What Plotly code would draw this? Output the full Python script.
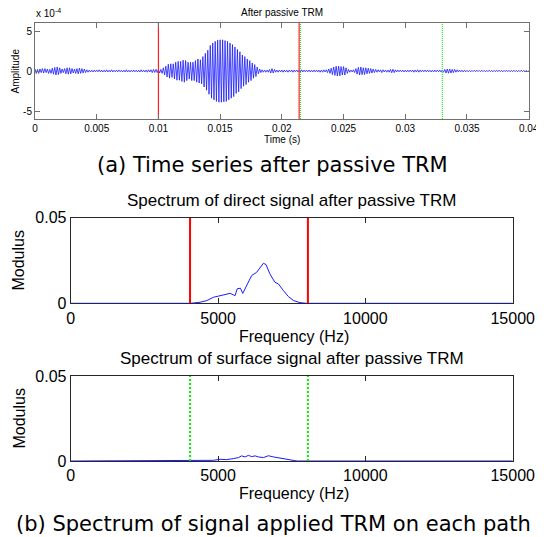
import plotly.graph_objects as go

# page body has an 8px default margin, so the figure is drawn 8px in from the top-left
PAGE_W, PAGE_H = 544, 537
OFF = 8
W, H = PAGE_W - OFF, PAGE_H - OFF

# ---------------- data ----------------
# time series (amplitude in units of 1e-4), extrema every 0.0001 s from 0 to 0.04 s
amp_1e4 = [
    0.25, -0.3, 0.2, -0.3, 0.25, -0.2, 0.3, -0.25, 0.3, -0.2,
    0.25, -0.3, 0.2, -0.3, 0.35, -0.4, 0.45, -0.5, 0.5, -0.45,
    0.4, -0.3, 0.25, -0.2, 0.3, -0.35, 0.4, -0.4, 0.4, -0.35,
    0.3, -0.25, 0.25, -0.3, 0.3, -0.35, 0.35, -0.3, 0.3, -0.25,
    0.25, -0.2, 0.15, -0.15, 0.12, -0.12, 0.1, -0.12, 0.12, -0.1,
    0.12, -0.1, 0.15, -0.12, 0.1, -0.12, 0.1, -0.12, 0.15, -0.12,
    0.1, -0.12, 0.15, -0.12, 0.1, -0.1, 0.12, -0.1, 0.12, -0.1,
    0.1, -0.12, 0.1, -0.12, 0.15, -0.12, 0.1, -0.12, 0.1, -0.1,
    0.12, -0.1, 0.1, -0.12, 0.1, -0.12, 0.15, -0.12, 0.1, -0.12,
    0.12, -0.15, 0.15, -0.12, 0.15, -0.2, 0.2, -0.18, 0.2, -0.2,
    0.2, -0.25, 0.2, -0.3, 0.4, -0.5, 0.6, -0.75, 0.85, -0.9,
    0.9, -0.8, 0.9, -1.0, 1.1, -1.15, 1.2, -1.15, 1.2, -1.3,
    1.35, -1.4, 1.3, -1.2, 1.1, -1.0, 1.1, -1.2, 1.1, -1.2,
    1.3, -1.4, 1.5, -1.5, 1.4, -1.6, 1.8, -2.0, 2.2, -2.4,
    2.6, -2.9, 3.2, -3.4, 3.5, -3.6, 3.7, -3.8, 3.85, -3.9,
    3.9, -3.9, 3.9, -3.85, 3.8, -3.8, 3.7, -3.6, 3.5, -3.4,
    3.3, -3.2, 3.0, -2.8, 2.7, -2.6, 2.4, -2.2, 2.0, -1.9,
    1.8, -1.7, 1.5, -1.4, 1.3, -1.2, 1.0, -0.9, 0.8, -0.7,
    0.5, -0.35, 0.25, -0.2, 0.15, -0.15, 0.12, -0.15, 0.12, -0.15,
    0.2, -0.25, 0.3, -0.25, 0.2, -0.15, 0.12, -0.15, 0.12, -0.12,
    0.12, -0.15, 0.12, -0.12, 0.1, -0.15, 0.12, -0.1, 0.12, -0.15,
    0.12, -0.1, 0.12, -0.12, 0.1, -0.12, 0.15, -0.12, 0.12, -0.1,
    0.12, -0.1, 0.12, -0.12, 0.1, -0.12, 0.12, -0.1, 0.12, -0.12,
    0.12, -0.15, 0.12, -0.15, 0.15, -0.12, 0.15, -0.2, 0.25, -0.3,
    0.35, -0.45, 0.5, -0.55, 0.6, -0.62, 0.6, -0.6, 0.55, -0.5,
    0.55, -0.5, 0.4, -0.3, 0.2, -0.15, 0.12, -0.12, 0.15, -0.2,
    0.3, -0.4, 0.45, -0.5, 0.5, -0.45, 0.4, -0.45, 0.4, -0.35,
    0.35, -0.3, 0.3, -0.25, 0.25, -0.2, 0.2, -0.15, 0.15, -0.12,
    0.15, -0.2, 0.15, -0.12, 0.12, -0.15, 0.12, -0.15, 0.2, -0.22,
    0.22, -0.2, 0.15, -0.12, 0.12, -0.1, 0.12, -0.1, 0.12, -0.12,
    0.1, -0.12, 0.12, -0.1, 0.12, -0.1, 0.12, -0.15, 0.12, -0.12,
    0.15, -0.15, 0.12, -0.1, 0.12, -0.1, 0.12, -0.1, 0.12, -0.1,
    0.1, -0.12, 0.1, -0.12, 0.12, -0.1, 0.12, -0.1, 0.12, -0.12,
    0.12, -0.15, 0.2, -0.25, 0.25, -0.28, 0.25, -0.25, 0.2, -0.2,
    0.2, -0.15, 0.15, -0.12, 0.12, -0.1, 0.1, -0.12, 0.1, -0.1,
    0.08, -0.1, 0.08, -0.1, 0.08, -0.08, 0.1, -0.08, 0.1, -0.08,
    0.08, -0.08, 0.1, -0.08, 0.08, -0.1, 0.08, -0.08, 0.1, -0.08,
    0.08, -0.1, 0.08, -0.08, 0.1, -0.08, 0.1, -0.08, 0.08, -0.1,
    0.08, -0.08, 0.1, -0.08, 0.08, -0.1, 0.08, -0.08, 0.1, -0.08,
    0.08, -0.1, 0.08, -0.08, 0.1, -0.08, 0.08, -0.1, 0.08, -0.08,
    0.05,
]
sample_step_s = 0.0001
time_s = [i * sample_step_s for i in range(len(amp_1e4))]

time_red_lines = [0.01, 0.0214]
time_green_lines = [0.0215, 0.033]
time_ticks = [0, 0.005, 0.01, 0.015, 0.02, 0.025, 0.03, 0.035, 0.04]
time_tick_labels = ["0", "0.005", "0.01", "0.015", "0.02", "0.025", "0.03", "0.035", "0.04"]
amp_ticks = [-5, 0, 5]
amp_tick_labels = ["-5", "0", "5"]

# spectrum of direct signal
direct_freq = [0, 4000, 4070, 4390, 4620, 4840, 5070, 5240, 5410, 5520, 5580, 5650,
               5760, 5840, 5970, 6140, 6310, 6430, 6540, 6630, 6760, 6930, 7050,
               7220, 7390, 7560, 7780, 8000, 15000]
direct_mod = [0, 0, 0, 0.0006, 0.0016, 0.0035, 0.0045, 0.0055, 0.0058, 0.0049, 0.0045,
              0.0085, 0.0088, 0.0058, 0.0103, 0.0162, 0.0181, 0.021, 0.0234, 0.0226,
              0.0172, 0.0123, 0.0113, 0.0074, 0.0039, 0.0016, 0.0004, 0, 0]

# spectrum of surface signal
surf_freq = [0, 4800, 4840, 5070, 5290, 5520, 5690, 5800, 5920, 6030, 6140, 6260,
             6370, 6540, 6710, 6880, 7050, 7220, 7390, 7610, 7700, 15000]
surf_mod = [0, 0, 0.0004, 0.001, 0.0008, 0.0014, 0.002, 0.003, 0.0024, 0.0033, 0.0026,
            0.003, 0.0024, 0.002, 0.0031, 0.0024, 0.0018, 0.0014, 0.001, 0.0002, 0, 0]

freq_red_lines = [4050, 8050]
freq_green_lines = [4050, 8050]
freq_ticks = [0, 5000, 10000, 15000]
freq_tick_labels = ["0", "5000", "10000", "15000"]
mod_ticks = [0, 0.05]
mod_tick_labels = ["0", "0.05"]

# ---------------- helpers (page pixels -> paper fractions) ----------------
def fx(x):
    return (x - OFF) / W

def fy(y):
    return 1 - (y - OFF) / H

AX = "Liberation Sans, Arial, sans-serif"

fig = go.Figure()

# top: time series
fig.add_trace(go.Scatter(x=time_s, y=amp_1e4, mode="lines",
                         line=dict(color="#1a1aff", width=0.8),
                         xaxis="x", yaxis="y", showlegend=False))
for t in time_red_lines:
    fig.add_trace(go.Scatter(x=[t, t], y=[-6, 6], mode="lines",
                             line=dict(color="#ff2020", width=1.2),
                             xaxis="x", yaxis="y", showlegend=False))
for t in time_green_lines:
    fig.add_trace(go.Scatter(x=[t, t], y=[-6, 6], mode="lines",
                             line=dict(color="#00e000", width=1, dash="1px,1px"),
                             xaxis="x", yaxis="y", showlegend=False))

# middle: direct spectrum
fig.add_trace(go.Scatter(x=direct_freq, y=direct_mod, mode="lines",
                         line=dict(color="#1a1aff", width=1),
                         xaxis="x2", yaxis="y2", showlegend=False))
for f in freq_red_lines:
    fig.add_trace(go.Scatter(x=[f, f], y=[0, 0.05], mode="lines",
                             line=dict(color="#ff0000", width=2),
                             xaxis="x2", yaxis="y2", showlegend=False))

# bottom: surface spectrum
fig.add_trace(go.Scatter(x=surf_freq, y=surf_mod, mode="lines",
                         line=dict(color="#1a1aff", width=1),
                         xaxis="x3", yaxis="y3", showlegend=False))
for f in freq_green_lines:
    fig.add_trace(go.Scatter(x=[f, f], y=[0, 0.05], mode="lines",
                             line=dict(color="#00ee00", width=2, dash="2px,2px"),
                             xaxis="x3", yaxis="y3", showlegend=False))

top_axis = dict(showline=True, linecolor="#707070", linewidth=1, mirror="ticks",
                ticks="inside", ticklen=5, tickcolor="#707070", showgrid=False,
                zeroline=False, automargin=False,
                tickfont=dict(family=AX, size=10, color="black"))
spec_axis = dict(showline=True, linecolor="#262626", linewidth=1, mirror="ticks",
                 ticks="inside", ticklen=5, tickcolor="#262626", showgrid=False,
                 zeroline=False, layer="below traces", automargin=False,
                 tickfont=dict(family=AX, size=16, color="black"))

fig.update_layout(
    width=W, height=H, margin=dict(l=0, r=0, t=0, b=0),
    paper_bgcolor="white", plot_bgcolor="white",
    xaxis=dict(top_axis, domain=[fx(35), fx(528.7)], range=[0, 0.04],
               tickvals=time_ticks, ticktext=time_tick_labels, anchor="y"),
    yaxis=dict(top_axis, domain=[fy(119), fy(23)], range=[-6, 6],
               tickvals=amp_ticks, ticktext=amp_tick_labels, anchor="x"),
    xaxis2=dict(spec_axis, domain=[fx(70.7), fx(512.7)], range=[0, 15000],
                tickvals=freq_ticks, ticktext=freq_tick_labels, anchor="y2"),
    yaxis2=dict(spec_axis, domain=[fy(303.3), fy(217.7)], range=[0, 0.05],
                tickvals=mod_ticks, ticktext=mod_tick_labels, anchor="x2"),
    xaxis3=dict(spec_axis, domain=[fx(70.7), fx(512.7)], range=[0, 15000],
                tickvals=freq_ticks, ticktext=freq_tick_labels, anchor="y3"),
    yaxis3=dict(spec_axis, domain=[fy(461), fy(376)], range=[0, 0.05],
                tickvals=mod_ticks, ticktext=mod_tick_labels, anchor="x3"),
)

def ann(text, x, y, size, family=AX, angle=0, xanchor="center", yanchor="middle"):
    fig.add_annotation(text=text, x=fx(x), y=fy(y), xref="paper", yref="paper",
                       showarrow=False, textangle=angle, xanchor=xanchor, yanchor=yanchor,
                       font=dict(family=family, size=size, color="black"))

ann("After passive TRM", 281.9, 12.5, 10)
ann("x 10<sup>-4</sup>", 34, 21, 10, xanchor="left", yanchor="bottom")
ann("Amplitude", 14.5, 71, 10, angle=-90)
ann("Time (s)", 282, 139, 10)
ann("(a) Time series after passive TRM", 272, 165, 21, family="DejaVu Sans")

ann("Spectrum of direct signal after passive TRM", 291.7, 200, 17)
ann("Modulus", 18, 260.5, 16, angle=-90)
ann("Frequency (Hz)", 293.5, 336, 16)

ann("Spectrum of surface signal after passive TRM", 291.7, 358, 17)
ann("Modulus", 19, 418.5, 16, angle=-90)
ann("Frequency (Hz)", 293.5, 493, 16)
ann("(b) Spectrum of signal applied TRM on each path", 273, 524, 21, family="DejaVu Sans")

fig.write_html("out.html")
